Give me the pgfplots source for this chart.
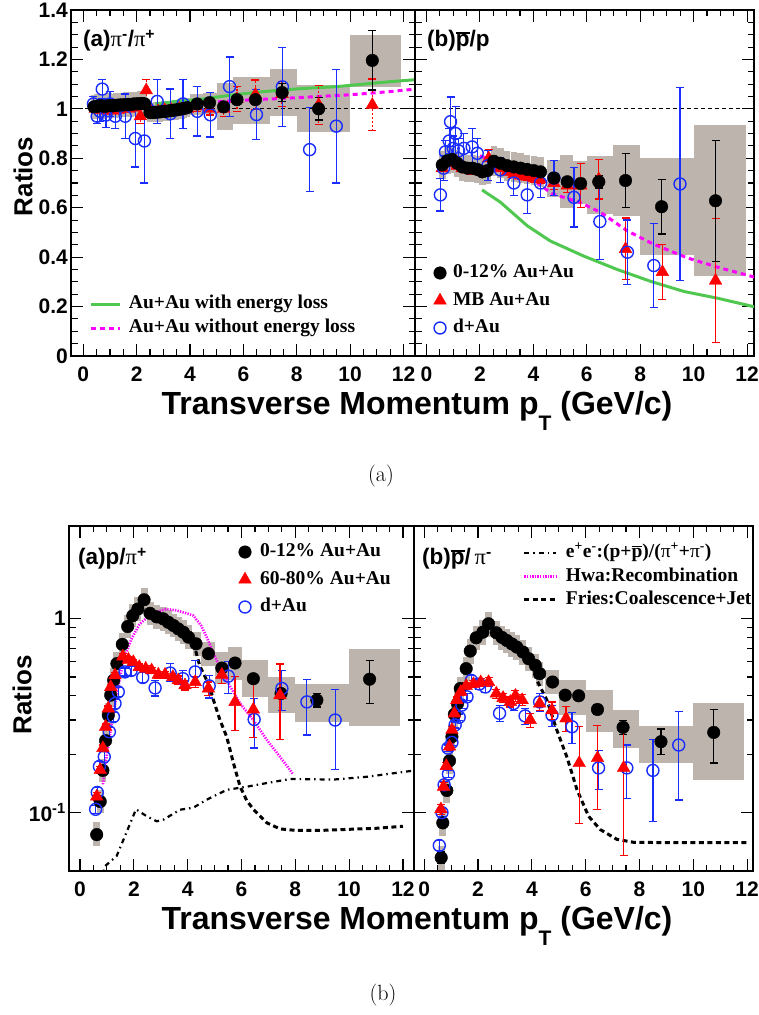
\documentclass[border=0pt]{standalone}
\usepackage{fontspec}
\usepackage{pgfplots}
\pgfplotsset{compat=1.18}

\newfontfamily\hel{Liberation Sans}
\newfontfamily\tim{Liberation Serif}

\definecolor{boxgray}{RGB}{189,181,173}
\definecolor{eloss}{RGB}{80,200,80}
\definecolor{mag}{RGB}{255,0,255}
\definecolor{dau}{RGB}{25,45,255}

% letter with a bar over it
\newcommand\obar[2][1.5pt]{\vbox{\hrule height #1\kern1.2pt\hbox{#2}}}
\newcommand\pisym{{\tim\mdseries π}}

\pgfplotsset{
  panel/.style={
    scale only axis,
    axis line style={line width=1.4pt},
    tick style={line width=1.1pt, black},
    major tick length=12pt, minor tick length=6.5pt,
    tick align=inside, xtick pos=both, ytick pos=both,
    xtick={0,2,4,6,8,10,12}, xticklabels={0,2,4,6,8,10,12},
    minor x tick num=3,
    ticklabel style={font=\hel\bfseries\fontsize{21}{21}\selectfont},
    xticklabel style={inner sep=0pt, yshift=-11pt},
    yticklabel style={inner sep=0pt, xshift=-3pt},
    legend style={draw=none, fill=none, inner sep=0pt, outer sep=0pt,
      anchor=north west, cells={anchor=west},
      nodes={inner sep=0pt, text height=14pt, text depth=4.5pt},
      font=\tim\bfseries\fontsize{19.5}{20}\selectfont},
  },
  linpanel/.style={panel, ymin=0, ymax=1.4, height=346pt,
    ytick={0,0.2,0.4,0.6,0.8,1,1.2,1.4}, minor y tick num=3},
  logpanel/.style={panel, ymin=0.05, ymax=3, height=345pt,
    ytick={0.1,1}},
  sysbar/.style={only marks, mark=none, forget plot,
    error bars/.cd, y dir=both, y explicit, error mark=none,
    error bar style={line width=#1, draw=boxgray, solid}},
  sysbox/.style={fill=boxgray, draw=none, forget plot},
  errs/.style={error bars/.cd, y dir=both, y explicit, error mark=-,
    error mark options={rotate=90, mark size=4pt, line width=1.2pt, #1},
    error bar style={line width=1.2pt, #1}},
  auc/.style={only marks, mark=*, mark size=6.3pt, black, forget plot, errs=black},
  mbtri/.style={only marks, mark=triangle*, mark size=7.3pt, red, forget plot, errs=red},
  dauc/.style={only marks, mark=o, mark size=6pt, mark options={line width=1.4pt}, dau, forget plot, errs=dau},
  markleg/.style={legend image code/.code={\path[draw=none, fill=none] (0pt,0pt) -- (13pt,0pt); \draw[##1] plot coordinates {(6.5pt,0pt)};}},
  lineleg/.style={legend image code/.code={\draw[##1] (0pt,0pt) -- (#1,0pt);}},
}

\begin{document}
\begin{tikzpicture}
\path[use as bounding box] (0pt,0pt) rectangle (758pt,1015pt);

%================ (a) pi-/pi+ =================
\begin{axis}[linpanel, at={(71pt,659pt)}, anchor=south west, width=344pt,
  xmin=-0.46, xmax=12.43,
  yticklabels={0,0.2,0.4,0.6,0.8,1,1.2,1.4},
  legend style={at={(rel axis cs:0.0552,0.177)}, row sep=5.5pt, column sep=7pt}]
\addplot[sysbar=5pt] table[x=x,y=y,y error=s] {
x y s
0.40 1.008 0.05
0.50 1.010 0.05
0.60 1.012 0.05
0.70 1.012 0.05
0.80 1.010 0.05
0.90 1.012 0.05
1.00 1.013 0.05
1.10 1.012 0.05
1.20 1.014 0.05
1.30 1.015 0.05
1.40 1.016 0.05
1.50 1.016 0.05
1.60 1.017 0.05
1.70 1.018 0.05
1.80 1.018 0.05
1.90 1.020 0.05
2.00 1.020 0.05
2.10 1.021 0.05
2.20 1.022 0.05
2.30 1.020 0.05
2.50 0.985 0.04
2.60 0.985 0.04
2.70 0.986 0.04
2.80 0.987 0.04
2.90 0.988 0.04
3.00 0.990 0.04
3.10 0.990 0.04
3.20 0.992 0.04
3.30 0.993 0.04
3.40 0.995 0.04
3.50 0.996 0.04
3.60 0.998 0.04
3.70 1.000 0.04
3.80 1.002 0.04
3.90 1.005 0.04
};
\addplot[sysbox] coordinates {(4.0,0.975)(4.5,0.975)(4.5,1.06)(4.0,1.06)};
\addplot[sysbox] coordinates {(4.5,0.98)(5.0,0.98)(5.0,1.065)(4.5,1.065)};
\addplot[sysbox] coordinates {(5.0,0.915)(5.6,0.915)(5.6,1.105)(5.0,1.105)};
\addplot[sysbox] coordinates {(5.6,0.94)(6.25,0.94)(6.25,1.13)(5.6,1.13)};
\addplot[sysbox] coordinates {(6.25,0.94)(7.0,0.94)(7.0,1.13)(6.25,1.13)};
\addplot[sysbox] coordinates {(7.0,0.97)(8.0,0.97)(8.0,1.16)(7.0,1.16)};
\addplot[sysbox] coordinates {(8.0,0.905)(10.0,0.905)(10.0,1.095)(8.0,1.095)};
\addplot[sysbox] coordinates {(10.0,1.09)(11.9,1.09)(11.9,1.30)(10.0,1.30)};
% model curves
\addplot[eloss, line width=3pt, forget plot] coordinates {
(2.7,1.02)(3.5,1.03)(4.5,1.04)(5.5,1.055)(6.5,1.067)(7.5,1.077)(8.5,1.084)
(9.5,1.09)(10.5,1.10)(11.5,1.11)(12.45,1.118)};
\addplot[mag, line width=3pt, dash pattern=on 5pt off 4pt, forget plot] coordinates {
(2.7,1.0)(3.5,1.005)(4.5,1.02)(5.0,1.028)(6.0,1.035)(7.0,1.04)(8.0,1.045)
(8.8,1.05)(10.0,1.057)(10.6,1.062)(11.5,1.07)(12.45,1.08)};
\addplot[black, line width=1.1pt, dash pattern=on 4pt off 3pt, forget plot] coordinates {(-1,1)(13,1)};
% MB Au+Au
\addplot[mbtri, /pgfplots/error bars/error bar style={dash pattern=on 2pt off 2pt}] table[x=x,y=y,y error=e] {
x y e
0.45 1.000 0.006
0.55 1.000 0.006
0.65 0.995 0.006
0.75 1.000 0.006
0.85 0.992 0.006
0.95 0.995 0.006
1.05 1.000 0.007
1.15 0.992 0.007
1.30 0.995 0.008
1.50 1.000 0.008
1.70 1.000 0.009
1.90 1.005 0.010
2.14 0.970 0.030
2.36 1.075 0.045
2.55 0.990 0.010
2.80 0.990 0.010
3.05 0.995 0.012
3.30 0.995 0.012
3.60 1.000 0.014
3.90 1.000 0.015
4.27 1.010 0.020
4.73 1.000 0.025
5.26 1.000 0.030
5.76 1.040 0.050
6.45 1.057 0.060
7.45 1.060 0.050
8.82 1.016 0.080
10.83 1.016 0.105
};
% d+Au
\addplot[dauc] table[x=x,y=y,y error=e] {
x y e
0.38 1.020 0.030
0.52 0.970 0.030
0.63 0.990 0.040
0.71 1.080 0.040
0.85 0.975 0.050
1.00 1.020 0.050
1.20 0.970 0.050
1.57 0.970 0.090
1.95 0.880 0.115
2.29 0.870 0.170
2.77 1.030 0.090
3.26 0.980 0.100
3.74 1.020 0.100
4.27 0.990 0.100
4.76 0.976 0.090
5.48 1.090 0.120
6.49 0.977 0.100
7.46 1.089 0.160
8.48 0.835 0.170
9.48 0.930 0.230
};
% 0-12% Au+Au
\addplot[auc] table[x=x,y=y,y error=e] {
x y e
0.40 1.008 0.004
0.50 1.010 0.004
0.60 1.012 0.004
0.70 1.012 0.004
0.80 1.010 0.004
0.90 1.012 0.004
1.00 1.013 0.004
1.10 1.012 0.004
1.20 1.014 0.004
1.30 1.015 0.004
1.40 1.016 0.005
1.50 1.016 0.005
1.60 1.017 0.005
1.70 1.018 0.005
1.80 1.018 0.005
1.90 1.020 0.005
2.00 1.020 0.006
2.10 1.021 0.006
2.20 1.022 0.006
2.30 1.020 0.007
2.50 0.985 0.006
2.60 0.985 0.006
2.70 0.986 0.006
2.80 0.987 0.006
2.90 0.988 0.006
3.00 0.990 0.006
3.10 0.990 0.006
3.20 0.992 0.006
3.30 0.993 0.007
3.40 0.995 0.007
3.50 0.996 0.007
3.60 0.998 0.007
3.70 1.000 0.008
3.80 1.002 0.008
3.90 1.005 0.008
4.27 1.020 0.010
4.73 1.025 0.012
5.26 1.008 0.012
5.76 1.037 0.015
6.45 1.037 0.020
7.45 1.066 0.035
8.82 1.000 0.045
10.83 1.196 0.120
};
\addlegendimage{lineleg=29pt, eloss, line width=3pt}
\addlegendentry{Au+Au with energy loss}
\addlegendimage{lineleg=29pt, mag, line width=3pt, dash pattern=on 5pt off 4pt}
\addlegendentry{Au+Au without energy loss}
\end{axis}

%================ (b) pbar/p =================
\begin{axis}[linpanel, at={(415pt,659pt)}, anchor=south west, width=339pt,
  xmin=-0.43, xmax=12.26, yticklabels={},
  legend style={at={(rel axis cs:0.0546,0.2666)}, row sep=9pt, column sep=6.5pt}]
\addplot[sysbar=6.5pt] table[x=x,y=y,y error=s] {
x y s
0.59 0.773 0.055
0.78 0.790 0.055
0.96 0.795 0.055
1.15 0.780 0.055
1.34 0.765 0.055
1.53 0.760 0.055
1.72 0.760 0.055
1.90 0.755 0.055
2.09 0.745 0.055
2.28 0.750 0.055
2.52 0.788 0.060
2.77 0.780 0.060
3.02 0.770 0.060
3.27 0.765 0.060
3.52 0.760 0.060
3.77 0.755 0.060
4.02 0.750 0.060
4.27 0.745 0.060
};
\addplot[sysbox] coordinates {(4.5,0.645)(5.0,0.645)(5.0,0.795)(4.5,0.795)};
\addplot[sysbox] coordinates {(5.0,0.60)(5.5,0.60)(5.5,0.815)(5.0,0.815)};
\addplot[sysbox] coordinates {(5.5,0.615)(6.0,0.615)(6.0,0.79)(5.5,0.79)};
\addplot[sysbox] coordinates {(6.0,0.575)(7.0,0.575)(7.0,0.808)(6.0,0.808)};
\addplot[sysbox] coordinates {(7.0,0.567)(8.0,0.567)(8.0,0.853)(7.0,0.853)};
\addplot[sysbox] coordinates {(8.0,0.41)(10.0,0.41)(10.0,0.80)(8.0,0.80)};
\addplot[sysbox] coordinates {(10.0,0.322)(11.95,0.322)(11.95,0.935)(10.0,0.935)};
% model curves
\addplot[eloss, line width=3pt, forget plot] coordinates {
(2.08,0.672)(2.77,0.622)(3.77,0.527)(4.64,0.465)(5.89,0.404)(7.14,0.35)
(8.39,0.302)(9.64,0.261)(10.89,0.234)(12.39,0.196)};
\addplot[mag, line width=3pt, dash pattern=on 5pt off 4pt, forget plot] coordinates {
(2.0,0.81)(2.5,0.79)(3.0,0.765)(3.5,0.735)(4.15,0.70)(4.71,0.656)(5.2,0.64)
(5.77,0.62)(6.52,0.581)(7.52,0.506)(8.51,0.452)(9.76,0.397)(11.0,0.356)(12.39,0.316)};
\addplot[black, line width=1.1pt, dash pattern=on 4pt off 3pt, forget plot] coordinates {(-1,1)(13,1)};
% MB Au+Au
\addplot[mbtri] table[x=x,y=y,y error=e] {
x y e
0.59 0.760 0.012
0.78 0.780 0.012
0.96 0.780 0.012
1.15 0.770 0.012
1.34 0.760 0.012
1.53 0.755 0.012
1.72 0.750 0.014
1.90 0.750 0.014
2.09 0.745 0.015
2.33 0.800 0.035
2.52 0.770 0.012
2.77 0.760 0.012
3.02 0.745 0.012
3.27 0.735 0.013
3.52 0.730 0.014
3.77 0.725 0.015
4.02 0.720 0.016
4.27 0.715 0.018
4.77 0.700 0.025
5.27 0.690 0.030
5.77 0.690 0.090
6.45 0.715 0.080
7.45 0.433 0.125
8.83 0.340 0.110
10.82 0.305 0.250
};
% d+Au
\addplot[dauc] table[x=x,y=y,y error=e] {
x y e
0.52 0.652 0.065
0.64 0.760 0.050
0.71 0.826 0.045
0.85 0.870 0.050
0.90 0.948 0.100
1.00 0.840 0.050
1.09 0.900 0.110
1.20 0.830 0.050
1.40 0.840 0.060
1.71 0.846 0.075
1.90 0.820 0.060
2.30 0.770 0.060
2.77 0.753 0.050
3.27 0.700 0.050
3.77 0.652 0.075
4.27 0.700 0.060
4.77 0.720 0.070
5.52 0.642 0.120
6.49 0.544 0.155
7.52 0.420 0.130
8.51 0.366 0.170
9.49 0.696 0.390
};
% 0-12% Au+Au
\addplot[auc] table[x=x,y=y,y error=e] {
x y e
0.59 0.773 0.010
0.78 0.790 0.010
0.96 0.795 0.010
1.15 0.780 0.010
1.34 0.765 0.010
1.53 0.760 0.010
1.72 0.760 0.010
1.90 0.755 0.012
2.09 0.745 0.012
2.28 0.750 0.012
2.52 0.788 0.010
2.77 0.780 0.010
3.02 0.770 0.010
3.27 0.765 0.010
3.52 0.760 0.010
3.77 0.755 0.010
4.02 0.750 0.011
4.27 0.745 0.012
4.77 0.720 0.015
5.27 0.705 0.015
5.77 0.698 0.020
6.45 0.705 0.025
7.45 0.710 0.110
8.80 0.604 0.110
10.82 0.628 0.245
};
\addlegendimage{only marks, mark=*, mark size=6.3pt, black, markleg}
\addlegendentry{0-12\% Au+Au}
\addlegendimage{only marks, mark=triangle*, mark size=7.3pt, red, markleg}
\addlegendentry{MB Au+Au}
\addlegendimage{only marks, mark=o, mark size=6pt, mark options={line width=1.4pt}, dau, markleg}
\addlegendentry{d+Au}
\end{axis}

%================ (a) p/pi+ =================
\begin{semilogyaxis}[logpanel, at={(69pt,144pt)}, anchor=south west, width=345pt,
  xmin=-0.41, xmax=12.41,
  yticklabels={10\textsuperscript{-1},1},
  legend style={at={(rel axis cs:0.4913,0.9514)}, row sep=9pt, column sep=8.5pt}]
\addplot[sysbar=7pt] table[x=x,y=y,y error plus=sp,y error minus=sm] {
x y sp sm
0.62 0.077 0.012 0.010
0.75 0.114 0.017 0.015
0.85 0.165 0.025 0.021
0.95 0.235 0.035 0.031
1.05 0.318 0.048 0.041
1.14 0.403 0.060 0.052
1.25 0.481 0.072 0.063
1.37 0.586 0.088 0.076
1.57 0.736 0.110 0.096
1.77 0.910 0.137 0.118
1.96 1.035 0.155 0.135
2.15 1.120 0.168 0.146
2.38 1.250 0.188 0.163
2.60 1.064 0.160 0.138
2.85 1.020 0.153 0.133
3.09 0.997 0.150 0.130
3.28 0.957 0.144 0.124
3.47 0.921 0.138 0.120
3.65 0.885 0.133 0.115
3.84 0.850 0.128 0.111
4.03 0.802 0.120 0.104
};
\addplot[sysbox] coordinates {(4.2,0.645)(4.5,0.645)(4.5,0.852)(4.2,0.852)};
\addplot[sysbox] coordinates {(4.5,0.573)(5.0,0.573)(5.0,0.758)(4.5,0.758)};
\addplot[sysbox] coordinates {(5.0,0.46)(5.5,0.46)(5.5,0.67)(5.0,0.67)};
\addplot[sysbox] coordinates {(5.5,0.48)(6.0,0.48)(6.0,0.71)(5.5,0.71)};
\addplot[sysbox] coordinates {(6.0,0.395)(7.0,0.395)(7.0,0.61)(6.0,0.61)};
\addplot[sysbox] coordinates {(7.0,0.325)(8.0,0.325)(8.0,0.50)(7.0,0.50)};
\addplot[sysbox] coordinates {(8.0,0.294)(10.0,0.294)(10.0,0.46)(8.0,0.46)};
\addplot[sysbox] coordinates {(10.0,0.28)(11.9,0.28)(11.9,0.693)(10.0,0.693)};
% model curves
\addplot[black, line width=2.2pt, dash pattern=on 5pt off 4pt on 1.5pt off 4pt, forget plot] coordinates {
(0.8,0.045)(0.93,0.053)(1.36,0.0597)(1.67,0.0757)(2.08,0.104)(2.48,0.0957)(2.85,0.0902)
(3.1,0.092)(3.72,0.1035)(4.21,0.106)(4.71,0.1166)(5.45,0.131)(6.2,0.136)(6.94,0.142)
(7.81,0.149)(9.42,0.148)(10.66,0.153)(12.45,0.165)};
\addplot[mag, line width=2.6pt, dash pattern=on 1.3pt off 1.3pt, forget plot] coordinates {
(0.85,0.14)(1.0,0.2)(1.2,0.3)(1.4,0.43)(1.6,0.6)(1.9,0.78)(2.2,0.93)(2.54,1.03)
(2.8,1.08)(3.22,1.12)(3.6,1.1)(4.0,1.06)(4.21,1.036)(4.5,0.92)(4.71,0.80)(5.02,0.633)
(5.45,0.48)(5.95,0.365)(6.44,0.30)(6.94,0.237)(7.43,0.194)(7.93,0.157)};
\addplot[black, line width=3pt, dash pattern=on 5pt off 3.5pt, forget plot] coordinates {
(4.3,0.68)(4.45,0.57)(4.65,0.5)(4.83,0.44)(4.96,0.38)(5.2,0.3)(5.45,0.246)(5.7,0.18)
(5.95,0.136)(6.2,0.115)(6.44,0.104)(6.94,0.0886)(7.43,0.0824)(8.0,0.081)(9.0,0.081)
(10.0,0.082)(11.0,0.083)(12.0,0.085)};
% 0-12% Au+Au
\addplot[auc] table[x=x,y=y,y error plus=ep,y error minus=em] {
x y ep em
0.62 0.077 0.003 0.003
0.75 0.114 0.003 0.003
0.85 0.165 0.004 0.004
0.95 0.235 0.005 0.005
1.05 0.318 0.006 0.006
1.14 0.403 0.007 0.007
1.25 0.481 0.008 0.008
1.37 0.586 0.009 0.009
1.57 0.736 0.010 0.010
1.77 0.910 0.012 0.012
1.96 1.035 0.014 0.014
2.15 1.120 0.015 0.015
2.38 1.250 0.018 0.018
2.60 1.064 0.015 0.015
2.85 1.020 0.015 0.015
3.09 0.997 0.015 0.015
3.28 0.957 0.015 0.015
3.47 0.921 0.015 0.015
3.65 0.885 0.015 0.015
3.84 0.850 0.015 0.015
4.03 0.802 0.015 0.015
4.31 0.741 0.015 0.015
4.77 0.659 0.015 0.015
5.27 0.556 0.015 0.015
5.76 0.590 0.020 0.020
6.44 0.490 0.020 0.020
7.47 0.411 0.025 0.025
8.80 0.380 0.030 0.030
10.76 0.487 0.122 0.122
};
% d+Au
\addplot[dauc] table[x=x,y=y,y error plus=ep,y error minus=em] {
x y ep em
0.58 0.104 0.005 0.005
0.64 0.127 0.008 0.008
0.72 0.173 0.010 0.010
0.90 0.194 0.012 0.012
1.09 0.261 0.015 0.015
1.24 0.312 0.018 0.018
1.30 0.365 0.020 0.020
1.42 0.419 0.022 0.022
1.67 0.531 0.025 0.025
1.90 0.540 0.030 0.030
2.33 0.497 0.030 0.030
2.79 0.439 0.040 0.040
3.35 0.524 0.064 0.050
3.82 0.490 0.050 0.050
4.28 0.531 0.078 0.060
4.80 0.450 0.060 0.060
5.51 0.505 0.095 0.095
6.47 0.302 0.087 0.087
7.50 0.436 0.105 0.100
8.43 0.372 0.115 0.121
9.48 0.300 0.130 0.134
};
% 60-80% Au+Au
\addplot[mbtri] table[x=x,y=y,y error plus=ep,y error minus=em] {
x y ep em
0.62 0.121 0.006 0.006
0.75 0.166 0.007 0.007
0.85 0.215 0.008 0.008
0.95 0.277 0.009 0.009
1.05 0.344 0.010 0.010
1.14 0.444 0.012 0.012
1.30 0.510 0.015 0.015
1.59 0.638 0.020 0.020
1.80 0.614 0.020 0.020
1.98 0.597 0.020 0.020
2.20 0.563 0.020 0.020
2.44 0.552 0.020 0.020
2.66 0.541 0.020 0.020
2.91 0.514 0.020 0.020
3.16 0.514 0.022 0.022
3.45 0.500 0.022 0.022
3.65 0.481 0.025 0.025
3.90 0.453 0.025 0.025
4.28 0.471 0.030 0.030
4.77 0.436 0.035 0.035
5.27 0.514 0.050 0.050
5.76 0.372 0.130 0.108
6.44 0.340 0.122 0.096
7.43 0.403 0.180 0.166
};
\addlegendimage{only marks, mark=*, mark size=6.3pt, black, markleg}
\addlegendentry{0-12\% Au+Au}
\addlegendimage{only marks, mark=triangle*, mark size=7.3pt, red, markleg}
\addlegendentry{60-80\% Au+Au}
\addlegendimage{only marks, mark=o, mark size=6pt, mark options={line width=1.4pt}, dau, markleg}
\addlegendentry{d+Au}
\end{semilogyaxis}

%================ (b) pbar/pi- =================
\begin{semilogyaxis}[logpanel, at={(414pt,144pt)}, anchor=south west, width=339pt,
  xmin=-0.38, xmax=12.22, yticklabels={},
  legend style={at={(rel axis cs:0.3215,0.9486)}, row sep=5pt, column sep=8pt}]
\addplot[sysbar=7pt] table[x=x,y=y,y error plus=sp,y error minus=sm] {
x y sp sm
0.63 0.0586 0.0088 0.0082
0.69 0.0885 0.0133 0.0124
0.84 0.130 0.0195 0.0182
0.94 0.185 0.028 0.026
1.03 0.246 0.037 0.034
1.12 0.321 0.048 0.045
1.24 0.365 0.055 0.051
1.34 0.436 0.065 0.061
1.56 0.552 0.083 0.077
1.71 0.680 0.102 0.095
1.93 0.796 0.119 0.111
2.18 0.851 0.128 0.119
2.39 0.940 0.141 0.132
2.68 0.845 0.127 0.118
2.89 0.800 0.120 0.112
3.07 0.771 0.116 0.108
3.26 0.740 0.111 0.104
3.44 0.713 0.107 0.100
3.67 0.672 0.101 0.094
3.88 0.621 0.093 0.087
4.13 0.574 0.086 0.080
4.29 0.520 0.078 0.073
};
\addplot[sysbox] coordinates {(4.5,0.41)(5.0,0.41)(5.0,0.54)(4.5,0.54)};
\addplot[sysbox] coordinates {(5.0,0.318)(6.0,0.318)(6.0,0.48)(5.0,0.48)};
\addplot[sysbox] coordinates {(6.0,0.26)(7.0,0.26)(7.0,0.43)(6.0,0.43)};
\addplot[sysbox] coordinates {(7.0,0.215)(8.0,0.215)(8.0,0.337)(7.0,0.337)};
\addplot[sysbox] coordinates {(8.0,0.18)(10.0,0.18)(10.0,0.28)(8.0,0.28)};
\addplot[sysbox] coordinates {(10.0,0.148)(11.9,0.148)(11.9,0.368)(10.0,0.368)};
% model curve
\addplot[black, line width=3pt, dash pattern=on 5pt off 3.5pt, forget plot] coordinates {
(4.1,0.52)(4.19,0.48)(4.56,0.38)(4.93,0.266)(5.3,0.194)(5.68,0.131)(6.11,0.0957)
(6.54,0.0818)(7.16,0.0728)(7.78,0.0703)(9,0.07)(10,0.07)(11,0.07)(12,0.07)};
% 0-12% Au+Au
\addplot[auc] table[x=x,y=y,y error plus=ep,y error minus=em] {
x y ep em
0.63 0.0586 0.004 0.004
0.69 0.0885 0.004 0.004
0.84 0.130 0.005 0.005
0.94 0.185 0.006 0.006
1.03 0.246 0.007 0.007
1.12 0.321 0.008 0.008
1.24 0.365 0.009 0.009
1.34 0.436 0.010 0.010
1.56 0.552 0.012 0.012
1.71 0.680 0.014 0.014
1.93 0.796 0.015 0.015
2.18 0.851 0.016 0.016
2.39 0.940 0.018 0.018
2.68 0.845 0.016 0.016
2.89 0.800 0.016 0.016
3.07 0.771 0.016 0.016
3.26 0.740 0.016 0.016
3.44 0.713 0.016 0.016
3.67 0.672 0.016 0.016
3.88 0.621 0.016 0.016
4.13 0.574 0.016 0.016
4.29 0.520 0.016 0.016
4.77 0.471 0.018 0.018
5.24 0.403 0.018 0.018
5.74 0.400 0.020 0.020
6.44 0.340 0.020 0.020
7.39 0.275 0.022 0.022
8.80 0.232 0.038 0.032
10.76 0.259 0.081 0.079
};
% d+Au
\addplot[dauc] table[x=x,y=y,y error plus=ep,y error minus=em] {
x y ep em
0.56 0.0677 0.004 0.004
0.66 0.100 0.005 0.005
0.74 0.139 0.006 0.006
0.88 0.215 0.008 0.008
0.90 0.158 0.007 0.007
1.03 0.230 0.009 0.009
1.15 0.283 0.010 0.010
1.30 0.310 0.012 0.012
1.40 0.358 0.014 0.014
1.59 0.395 0.016 0.016
1.75 0.480 0.030 0.030
2.05 0.460 0.030 0.030
2.27 0.444 0.030 0.030
2.80 0.325 0.030 0.030
3.32 0.365 0.030 0.030
3.75 0.315 0.030 0.030
4.29 0.372 0.040 0.040
4.75 0.318 0.040 0.040
5.49 0.277 0.051 0.049
6.48 0.170 0.039 0.039
7.53 0.170 0.053 0.052
8.50 0.165 0.072 0.075
9.46 0.223 0.108 0.107
};
% 60-80% Au+Au
\addplot[mbtri] table[x=x,y=y,y error plus=ep,y error minus=em] {
x y ep em
0.62 0.104 0.006 0.006
0.72 0.136 0.007 0.007
0.82 0.174 0.008 0.008
0.94 0.219 0.009 0.009
1.03 0.267 0.010 0.010
1.12 0.324 0.012 0.012
1.21 0.380 0.014 0.014
1.36 0.420 0.016 0.016
1.56 0.450 0.018 0.018
1.83 0.460 0.020 0.020
2.10 0.470 0.022 0.022
2.39 0.471 0.025 0.025
2.68 0.411 0.022 0.022
2.93 0.390 0.022 0.022
3.20 0.372 0.022 0.022
3.39 0.400 0.025 0.025
3.64 0.380 0.025 0.025
3.94 0.300 0.025 0.025
4.29 0.365 0.030 0.030
4.75 0.337 0.035 0.035
5.27 0.306 0.045 0.045
5.76 0.180 0.097 0.092
6.44 0.191 0.089 0.087
7.41 0.170 0.105 0.110
};
\addlegendimage{lineleg=32pt, black, line width=2.2pt, dash pattern=on 5pt off 4pt on 1.5pt off 4pt}
\addlegendentry{e\textsuperscript{+}e\textsuperscript{-}:(p+\obar[1.2pt]{p})/(\pisym\textsuperscript{+}+\pisym\textsuperscript{-})}
\addlegendimage{lineleg=32pt, mag, line width=2.6pt, dash pattern=on 1.3pt off 1.3pt}
\addlegendentry{Hwa:Recombination}
\addlegendimage{lineleg=32pt, black, line width=3pt, dash pattern=on 5pt off 3.5pt}
\addlegendentry{Fries:Coalescence+Jet}
\end{semilogyaxis}

% panel labels
\begin{scope}[every node/.style={anchor=base west, inner sep=0pt, font=\hel\bfseries\fontsize{22.5}{22.5}\selectfont}]
\node at (83pt,968pt) {(a)\pisym\textsuperscript{-}/\pisym\textsuperscript{+}};
\node at (427pt,968pt) {(b)\obar{p}/p};
\node at (78pt,450pt) {(a)p/\pisym\textsuperscript{+}};
\node at (422pt,450pt) {(b)\obar{p}/\,\pisym\textsuperscript{-}};
\end{scope}

% axis titles and captions
\begin{scope}[every node/.style={inner sep=0pt}]
\node[rotate=90, font=\hel\bfseries\fontsize{26}{26}\selectfont] at (23pt,838.5pt) {Ratios};
\node[rotate=90, font=\hel\bfseries\fontsize{26}{26}\selectfont] at (22pt,320pt) {Ratios};
\node[anchor=base, font=\hel\bfseries\fontsize{32}{32}\selectfont] at (417pt,600pt)
  {Transverse Momentum p\raisebox{-16pt}{\fontsize{21}{21}\selectfont T} (GeV/c)};
\node[anchor=base, font=\hel\bfseries\fontsize{32}{32}\selectfont] at (417pt,85pt)
  {Transverse Momentum p\raisebox{-16pt}{\fontsize{21}{21}\selectfont T} (GeV/c)};
\node[anchor=base, font=\fontsize{22}{26}\selectfont] at (381pt,533pt) {(a)};
\node[anchor=base, font=\fontsize{22}{26}\selectfont] at (383pt,14pt) {(b)};
\end{scope}
\end{tikzpicture}
\end{document}
